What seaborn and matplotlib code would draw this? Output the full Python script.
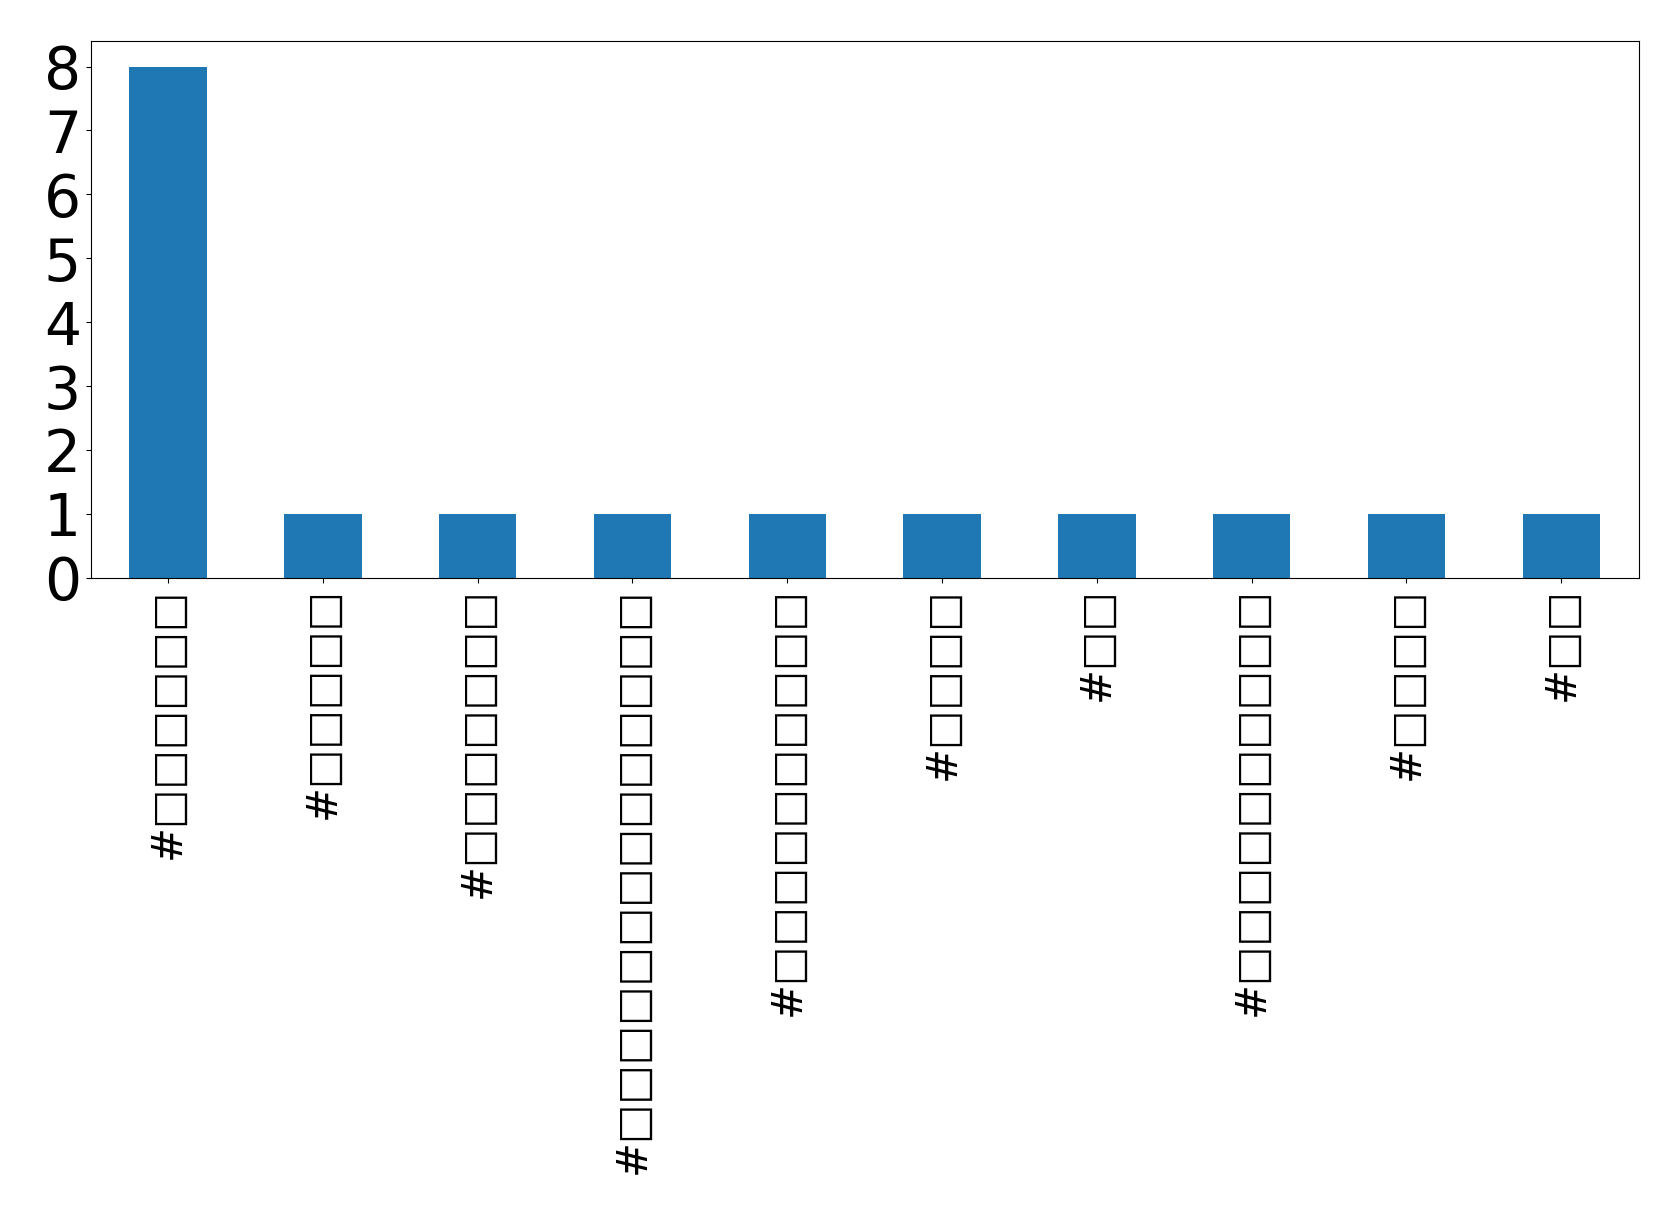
import matplotlib
matplotlib.use("Agg")
import matplotlib.pyplot as plt
import seaborn as sns
import pandas as pd

# ── data ──────────────────────────────────────────────────────────
# hashtag labels: the source glyphs are not readable in the reference
# (they show as empty boxes), so the boxes are kept as they appear
box = "\u25A1"
box_counts = [6, 5, 7, 14, 10, 4, 2, 10, 4, 2]
hashtags = ["#" + box * n for n in box_counts]
counts = [8, 1, 1, 1, 1, 1, 1, 1, 1, 1]

# several labels read the same, so bars are keyed by position
df = pd.DataFrame({"pos": [str(i) for i in range(len(hashtags))],
                   "count": counts})

# ── plot ──────────────────────────────────────────────────────────
plt.rcParams['font.family'] = ['DejaVu Sans']

fig, ax = plt.subplots(figsize=(16.79, 12.06), dpi=100)
fig.subplots_adjust(left=0.054, right=0.976, top=0.966, bottom=0.521)

sns.barplot(data=df, x="pos", y="count", color="#1f77b4",
            saturation=1, width=0.5, ax=ax)

ax.set_xlabel("")
ax.set_ylabel("")
ax.set_xlim(-0.5, len(hashtags) - 0.5)
ax.set_ylim(0, 8.4)
ax.set_yticks(range(9))
ax.set_xticks(range(len(hashtags)))
ax.set_xticklabels(hashtags, rotation=90, fontsize=30)
ax.tick_params(axis='y', labelsize=42)

fig.savefig("out.png", dpi=100)
